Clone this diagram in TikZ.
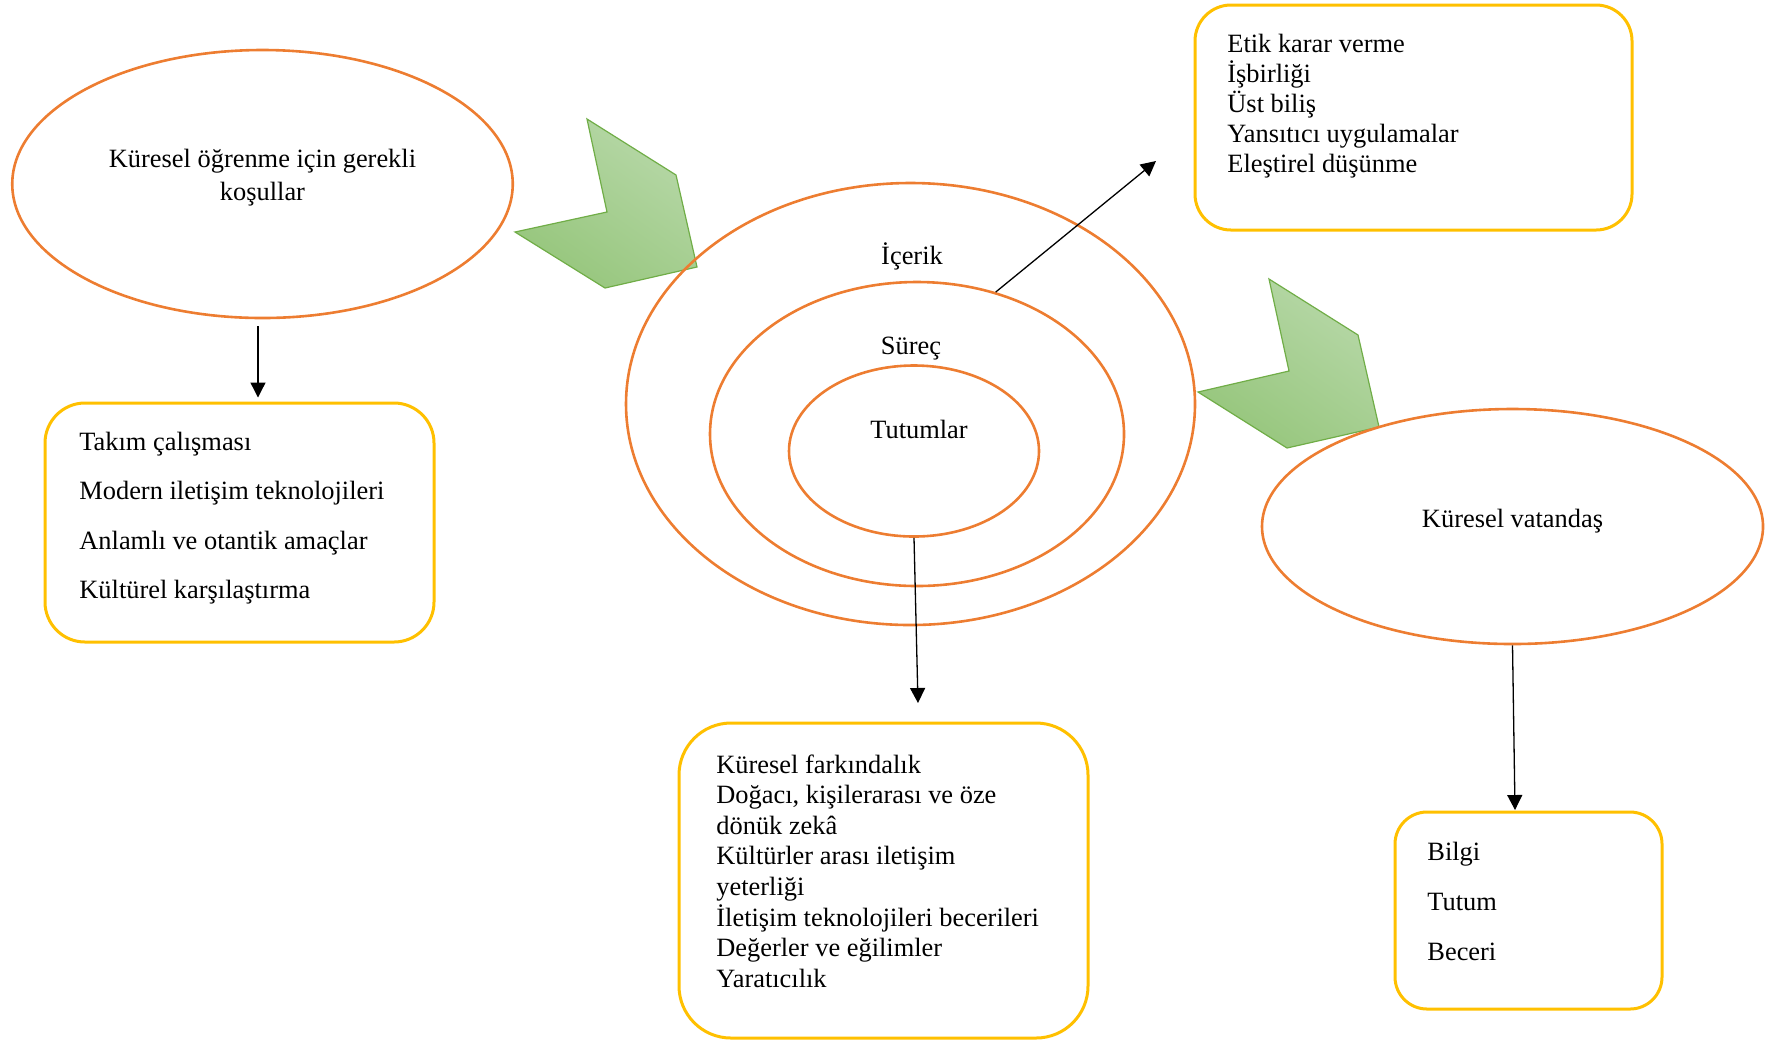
\documentclass[tikz,border=0pt]{standalone}
\usepackage{fontspec}
\setmainfont{Liberation Serif}
\usetikzlibrary{shapes.geometric,arrows.meta}
\definecolor{turuncu}{HTML}{ED7D31}
\definecolor{sari}{HTML}{FFC000}
\definecolor{yesil}{HTML}{70AD47}
\definecolor{acikyesil}{HTML}{B7D8A8}
\definecolor{koyuyesil}{HTML}{96C67C}
\tikzset{
  oval/.style={ellipse,draw=turuncu,line width=1.3pt,inner sep=0pt},
  kutu/.style={draw=sari,line width=1.5pt,inner sep=0pt},
  satir/.style={anchor=base west,inner sep=0pt},
  baslik/.style={anchor=base,inner sep=0pt},
  ok/.style={-{Triangle[length=7.5pt,width=7.5pt]},line width=0.65pt},
  sevron/.style={draw=yesil,line width=0.6pt,top color=acikyesil,bottom color=koyuyesil,shading angle=-35}
}
\begin{document}
\begin{tikzpicture}[x=0.5pt,y=-0.5pt,font=\fontsize{13.2}{15}\selectfont]
\useasboundingbox (0,0) rectangle (1775,1041);
\path[sevron] (587,119)--(676,175)--(697,267)--(605,288)--(515,232)--(607,212)--cycle;
\path[sevron] (1269,279)--(1358,335)--(1379,427)--(1287,448)--(1198,392)--(1289,371)--cycle;

\node[oval,minimum width=250.25pt,minimum height=134pt] (kosul) at (262.5,184) {};
\node[baslik] (kosul1) at (262.5,167) {Küresel öğrenme için gerekli};
\node[baslik] (kosul2) at (262.5,200) {koşullar};

\node[oval,minimum width=284.5pt,minimum height=221pt] (icerik) at (910.5,404) {};
\node[oval,minimum width=207pt,minimum height=152pt] (surec) at (917,434) {};
\node[oval,minimum width=125pt,minimum height=85.5pt] (tutum) at (914,451) {};
\node[baslik] (icerikad) at (912,264) {İçerik};
\node[baslik] (surecad) at (911,354) {Süreç};
\node[baslik] (tutumad) at (919,438) {Tutumlar};

\node[oval,minimum width=250.5pt,minimum height=117.5pt] (vatandas) at (1512.5,526.5) {};
\node[baslik] (vatandasad) at (1512.5,527) {Küresel vatandaş};

\node[kutu,rounded corners=20pt,minimum width=194.5pt,minimum height=119.5pt] (kosulkutu) at (239.5,522.5) {};
\foreach \t [count=\i] in {Takım çalışması,Modern iletişim teknolojileri,Anlamlı ve otantik amaçlar,Kültürel karşılaştırma}
  \node[satir] (kosul-\i) at (79,{450+49.5*(\i-1)}) {\t};

\node[kutu,rounded corners=18pt,minimum width=218.5pt,minimum height=112.5pt] (sureckutu) at (1413.5,117.5) {};
\foreach \t [count=\i] in {Etik karar verme,İşbirliği,Üst biliş,Yansıtıcı uygulamalar,Eleştirel düşünme}
  \node[satir] (surec-\i) at (1227,{52+30.2*(\i-1)}) {\t};

\node[kutu,rounded corners=26pt,minimum width=204.5pt,minimum height=157.5pt] (tutumkutu) at (883.5,880.5) {};
\foreach \t [count=\i] in {Küresel farkındalık,{Doğacı, kişilerarası ve öze},dönük zekâ,Kültürler arası iletişim,yeterliği,İletişim teknolojileri becerileri,Değerler ve eğilimler,Yaratıcılık}
  \node[satir] (tutum-\i) at (716,{773+30.6*(\i-1)}) {\t};

\node[kutu,rounded corners=16pt,minimum width=133.5pt,minimum height=98.5pt] (vatandaskutu) at (1528.5,910.5) {};
\foreach \t [count=\i] in {Bilgi,Tutum,Beceri}
  \node[satir] (vatandas-\i) at (1427,{860+50*(\i-1)}) {\t};

\coordinate (surecok) at (1156,161);
\coordinate (tutumok) at (918,703);
\coordinate (vatandasok) at (1515,810);
\draw[ok,shorten <=3.5pt,shorten >=2pt] ([xshift=-2.25pt]kosul.south) -- ([xshift=-2.25pt]kosul.south |- kosulkutu.north);
\draw[ok] (surec.61) -- (surecok);
\draw[ok] (tutum.south) -- (tutumok);
\draw[ok] (vatandas.south) -- (vatandasok);
\end{tikzpicture}
\end{document}
